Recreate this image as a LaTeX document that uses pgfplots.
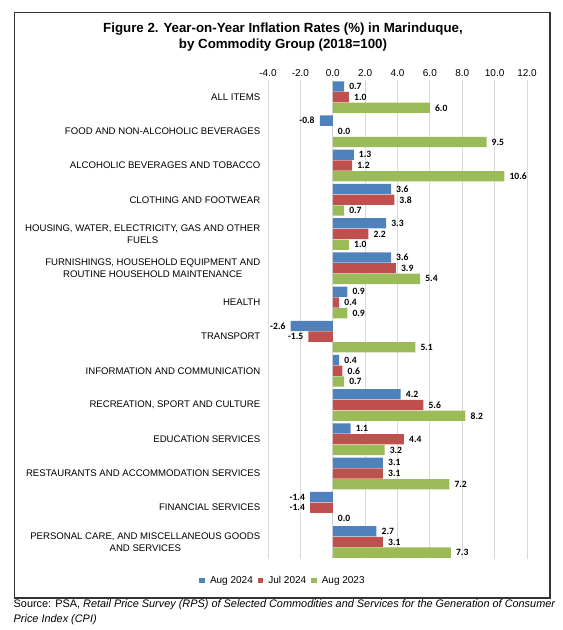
\documentclass[border=0pt]{standalone}
\usepackage{pgfplots}
\pgfplotsset{compat=1.18}
\usepackage{pgfplotstable}
\usepackage{fontspec}
\setmainfont{Liberation Sans}
\newfontfamily\carlito{Carlito}
\definecolor{cblue}{HTML}{4F81BD}
\definecolor{cred}{HTML}{C0504D}
\definecolor{cgreen}{HTML}{9BBB59}
\pgfplotstableread{
y a b c
0 0.7 1.0 6.0
1 -0.8 0.0 9.5
2 1.3 1.2 10.6
3 3.6 3.8 0.7
4 3.3 2.2 1.0
5 3.6 3.9 5.4
6 0.9 0.4 0.9
7 -2.6 -1.5 5.1
8 0.4 0.6 0.7
9 4.2 5.6 8.2
10 1.1 4.4 3.2
11 3.1 3.1 7.2
12 -1.4 -1.4 0.0
13 2.7 3.1 7.3
}\data
\begin{document}
\begin{tikzpicture}
\path[use as bounding box] (0bp,0bp) rectangle (563bp,-630bp);
\draw[line width=1.1bp, black!80] (14.5bp,-12.5bp) rectangle (550bp,-598bp);
\node[font=\fontsize{13.3bp}{16bp}\selectfont\bfseries, align=center] at (283bp,-37bp)
  {Figure 2. Year-on-Year Inflation Rates (\%) in Marinduque,\\by Commodity Group (2018=100)};
\node[font=\fontsize{10.9bp}{15bp}\selectfont, align=left, anchor=north west, inner sep=0pt] at (13.5bp,-599bp)
  {Source: PSA, \textit{Retail Price Survey (RPS) of Selected Commodities and Services for the Generation of Consumer}\\\textit{Price Index (CPI)}};
\begin{axis}[
  at={(268bp,-80bp)}, anchor=north west,
  scale only axis, width=259bp, height=479bp,
  xbar=0.4bp, bar width=10.3bp,
  y dir=reverse,
  xmin=-4, xmax=12, ymin=-0.5, ymax=13.5,
  xtick={-4,-2,...,12},
  xticklabel pos=upper,
  xticklabel style={font=\fontsize{10bp}{12bp}\selectfont, /pgf/number format/.cd, fixed, fixed zerofill, precision=1, assume math mode=true},
  ytick={0,...,13},
  yticklabels={{ALL ITEMS},{FOOD AND NON-ALCOHOLIC BEVERAGES},{ALCOHOLIC BEVERAGES AND TOBACCO},{CLOTHING AND FOOTWEAR},{HOUSING, WATER, ELECTRICITY, GAS AND OTHER\\FUELS},{FURNISHINGS, HOUSEHOLD EQUIPMENT AND\\ROUTINE HOUSEHOLD MAINTENANCE},{HEALTH},{TRANSPORT},{INFORMATION AND COMMUNICATION},{RECREATION, SPORT AND CULTURE},{EDUCATION SERVICES},{RESTAURANTS AND ACCOMMODATION SERVICES},{FINANCIAL SERVICES},{PERSONAL CARE, AND MISCELLANEOUS GOODS\\AND SERVICES}},
  yticklabel style={font=\fontsize{9.6bp}{12bp}\selectfont, align=center},
  axis line style={draw=none},
  major tick style={draw=none},
  xmajorgrids, grid style={black!15, line width=0.8bp},
  point meta=x,
  nodes near coords={\pgfmathprintnumber[fixed,fixed zerofill,precision=1,assume math mode=true]{\pgfplotspointmeta}},
  nodes near coords style={font=\fontsize{9.6bp}{10bp}\selectfont\carlito\bfseries, inner xsep=5bp},
  legend columns=3,
  legend style={at={(0.058,-0.045)}, anchor=center, draw=none, font=\fontsize{10bp}{12bp}\selectfont, column sep=3bp},
  legend image code/.code={\fill[#1] (0bp,-2.8bp) rectangle (5.6bp,2.8bp);},
]
\addplot[fill=cblue, draw=none, bar shift=10.7bp] table[x=a,y=y]{\data};
\addplot[fill=cred, draw=none, bar shift=0bp] table[x=b,y=y]{\data};
\addplot[fill=cgreen, draw=none, bar shift=-10.7bp] table[x=c,y=y]{\data};
\legend{Aug 2024,Jul 2024,Aug 2023}
\end{axis}
\end{tikzpicture}
\end{document}
